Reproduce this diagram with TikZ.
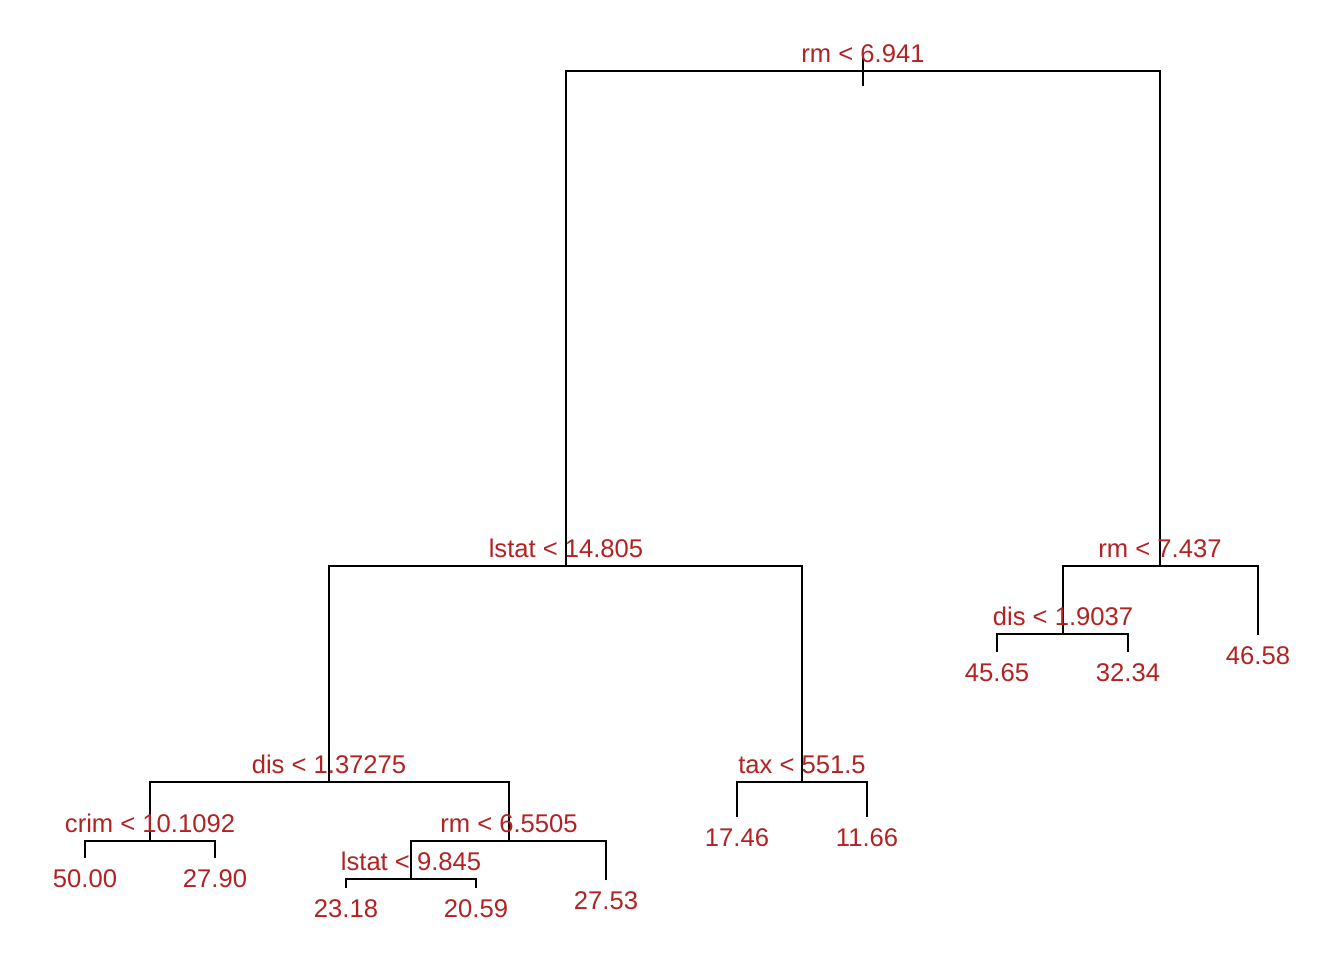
\documentclass[tikz,border=0pt]{standalone}
\usepackage{fontspec}
\setmainfont{Liberation Sans}
\definecolor{treered}{RGB}{178,34,34}
\tikzset{
    branch/.style={black, line width=1.4pt},
    lbl/.style={text=treered, font=\fontsize{19.2}{23}\selectfont, inner sep=0pt, anchor=base},
}
\begin{document}
\begin{tikzpicture}[x=0.75pt, y=-0.75pt]
    \useasboundingbox (0,0) rectangle (1344,960);
    % Split points
    \coordinate (root)   at (863,71);
    \coordinate (lstatA) at (566,566);
    \coordinate (rmB)    at (1160,566);
    \coordinate (disA)   at (329,782);
    \coordinate (tax)    at (802,782);
    \coordinate (crim)   at (150,841);
    \coordinate (rmC)    at (509,841);
    \coordinate (lstatB) at (411,879);
    \coordinate (disB)   at (1063,634);
    % Leaves
    \coordinate (l5000) at (85,858);
    \coordinate (l2790) at (215,858);
    \coordinate (l2318) at (346,888);
    \coordinate (l2059) at (476,888);
    \coordinate (l2753) at (606,880);
    \coordinate (l1746) at (737,817);
    \coordinate (l1166) at (867,817);
    \coordinate (l4565) at (997,652);
    \coordinate (l3234) at (1128,652);
    \coordinate (l4658) at (1258,635);

    % Branches
    \foreach \p/\c in {root/lstatA, root/rmB, lstatA/disA, lstatA/tax, disA/crim, disA/rmC,
                       crim/l5000, crim/l2790, rmC/lstatB, rmC/l2753, lstatB/l2318, lstatB/l2059,
                       tax/l1746, tax/l1166, rmB/disB, rmB/l4658, disB/l4565, disB/l3234} {
        \draw[branch] (\p) -| (\c);
    }
    \draw[branch] (root) ++(0,-14) -- ++(0,29);

    % Split labels
    \foreach \n/\t in {root/{rm < 6.941}, lstatA/{lstat < 14.805}, rmB/{rm < 7.437},
                       disA/{dis < 1.37275}, tax/{tax < 551.5}, crim/{crim < 10.1092},
                       rmC/{rm < 6.5505}, lstatB/{lstat < 9.845}, disB/{dis < 1.9037}} {
        \path (\n) ++(0,-9) node[lbl] (t-\n) {\t};
    }

    % Leaf values
    \foreach \n/\t in {l5000/50.00, l2790/27.90, l2318/23.18, l2059/20.59, l2753/27.53,
                       l1746/17.46, l1166/11.66, l4565/45.65, l3234/32.34, l4658/46.58} {
        \path (\n) ++(0,29.5) node[lbl] (t-\n) {\t};
    }
\end{tikzpicture}
\end{document}
